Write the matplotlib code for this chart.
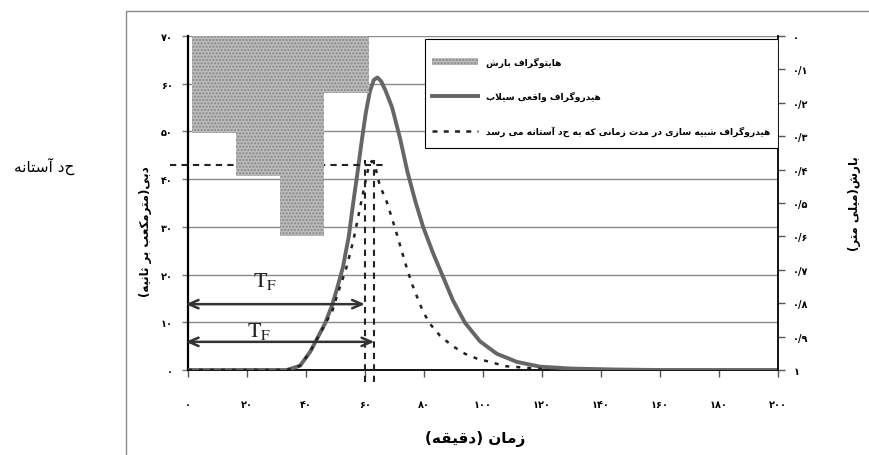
import matplotlib
matplotlib.use("Agg")
import matplotlib.pyplot as plt
from matplotlib.patches import Rectangle, Patch
from matplotlib.lines import Line2D

# hyetograph, rain depth (mm) hanging from the top of the right axis
rain_time = [8.75, 23.75, 38.75, 53.75]
rain_depth = [0.29, 0.42, 0.60, 0.17]
rain_width = 15

# observed hydrograph (m3/s)
obs_time = [0, 20, 33.5, 38, 41.4, 43.7, 46.4, 48.8, 50.5, 52.5, 54.5, 56, 57.6, 59,
            60.3, 61.7, 63, 64.2, 65.5, 67, 69.2, 71.9, 74.4, 77, 79.7, 83, 86.4, 89.8,
            93.9, 99, 104.7, 111.5, 119.3, 130, 145, 160, 200]
obs_q = [0, 0, 0, 0.9, 3.8, 6.5, 9.7, 13.5, 17, 21.5, 28, 35, 42, 48.5,
         54, 58.5, 60.8, 61.3, 60.5, 58.5, 55, 48.5, 41.5, 35.5, 30, 24.6, 19.6, 14.6,
         9.9, 6.0, 3.4, 1.7, 0.7, 0.3, 0.1, 0, 0]

# simulated hydrograph up to the threshold
sim_time = [0, 33.5, 38, 41.4, 43.7, 46.4, 49, 51, 53.5, 56, 58, 59.8, 61.2, 62.3,
            63.5, 65, 67.4, 70.2, 72.9, 74.2, 75.9, 77.6, 79.7, 82, 85.4, 89.5, 93.9,
            98.3, 102.4, 107.5, 111.9, 116, 120]
sim_q = [0, 0, 0.9, 3.8, 6.5, 9.5, 12.5, 16.5, 21, 27, 33, 38.5, 42.5, 43.8,
         42.5, 38.7, 35.2, 29.7, 24, 21.3, 18.1, 15.4, 12.2, 9.7, 7.2, 5.1, 3.4,
         2.3, 1.7, 0.8, 0.6, 0.4, 0.2]

threshold_q = 43
tf_times = [60, 63.2]
tf_arrow_q = [13.8, 5.9]

q_ticks = [0, 10, 20, 30, 40, 50, 60, 70]
q_tick_labels = ['۰', '۱۰', '۲۰', '۳۰', '۴۰', '۵۰', '۶۰', '۷۰']
t_ticks = [0, 20, 40, 60, 80, 100, 120, 140, 160, 180, 200]
t_tick_labels = ['۰', '۲۰', '۴۰', '۶۰', '۸۰', '۱۰۰', '۱۲۰', '۱۴۰', '۱۶۰', '۱۸۰', '۲۰۰']
rain_ticks = [0, 0.1, 0.2, 0.3, 0.4, 0.5, 0.6, 0.7, 0.8, 0.9, 1]
rain_tick_labels = ['۰', '۰/۱', '۰/۲', '۰/۳', '۰/۴', '۰/۵', '۰/۶', '۰/۷', '۰/۸', '۰/۹', '۱']

# --- minimal Persian shaping (matplotlib has no bidi / joining) ---
FORMS = {  # isolated, final[, initial, medial]
    'ا': ('\uFE8D', '\uFE8E'),
    'آ': ('\uFE81', '\uFE82'),
    'د': ('\uFEA9', '\uFEAA'),
    'ر': ('\uFEAD', '\uFEAE'),
    'ز': ('\uFEAF', '\uFEB0'),
    'و': ('\uFEED', '\uFEEE'),
    'ب': ('\uFE8F', '\uFE90', '\uFE91', '\uFE92'),
    'ت': ('\uFE95', '\uFE96', '\uFE97', '\uFE98'),
    'ث': ('\uFE99', '\uFE9A', '\uFE9B', '\uFE9C'),
    'س': ('\uFEB1', '\uFEB2', '\uFEB3', '\uFEB4'),
    'ش': ('\uFEB5', '\uFEB6', '\uFEB7', '\uFEB8'),
    'ع': ('\uFEC9', '\uFECA', '\uFECB', '\uFECC'),
    'ف': ('\uFED1', '\uFED2', '\uFED3', '\uFED4'),
    'ق': ('\uFED5', '\uFED6', '\uFED7', '\uFED8'),
    'ل': ('\uFEDD', '\uFEDE', '\uFEDF', '\uFEE0'),
    'م': ('\uFEE1', '\uFEE2', '\uFEE3', '\uFEE4'),
    'ن': ('\uFEE5', '\uFEE6', '\uFEE7', '\uFEE8'),
    'ه': ('\uFEE9', '\uFEEA', '\uFEEB', '\uFEEC'),
    'ی': ('\uFBFC', '\uFBFD', '\uFBFE', '\uFBFF'),
    'ک': ('\uFB8E', '\uFB8F', '\uFB90', '\uFB91'),
    'گ': ('\uFB92', '\uFB93', '\uFB94', '\uFB95'),
}
LAM_ALEF = {'ا': ('\uFEFB', '\uFEFC'), 'آ': ('\uFEF5', '\uFEF6')}


def fa(s):
    def dual(c):
        return c in FORMS and len(FORMS[c]) == 4
    out = []
    i = 0
    while i < len(s):
        c = s[i]
        if c not in FORMS:
            out.append(c)
            i += 1
            continue
        join_prev = i > 0 and dual(s[i-1])
        nxt = s[i+1] if i + 1 < len(s) else ''
        if c == 'ل' and nxt in LAM_ALEF:
            out.append(LAM_ALEF[nxt][1] if join_prev else LAM_ALEF[nxt][0])
            i += 2
            continue
        join_next = dual(c) and nxt in FORMS
        f = FORMS[c]
        if join_prev and join_next:
            g = f[3]
        elif join_prev:
            g = f[1]
        elif join_next:
            g = f[2]
        else:
            g = f[0]
        out.append(g)
        i += 1
    mirror = {'(': ')', ')': '('}
    return ''.join(mirror.get(ch, ch) for ch in reversed(out))


plt.rcParams['font.family'] = ['DejaVu Sans']
plt.rcParams['mathtext.fontset'] = 'stix'
plt.rcParams['hatch.linewidth'] = 1.1

fig = plt.figure(figsize=(8.69, 4.56), dpi=100)
ax = fig.add_axes([188/869, 85/456, 590/869, 334/456])
ax2 = ax.twinx()

# outer chart border
fig.add_artist(Rectangle((126/869, -0.05), 1.0, 1 - 12/456 + 0.05, transform=fig.transFigure,
                         fill=False, edgecolor='#8a8a8a', linewidth=1.0))

ax.set_xlim(0, 200)
ax.set_ylim(0, 70)
ax2.set_ylim(1, 0)

ax.grid(axis='y', color='#8a8a8a', linewidth=1.0)
ax.set_axisbelow(True)

ax.plot(obs_time, obs_q, color='#666666', linewidth=2.8, zorder=3)
ax.plot(sim_time, sim_q, color='#222222', linewidth=1.8, linestyle=(0, (1.6, 2.8)), zorder=4)

# threshold and time-to-threshold markers
ax.plot([-6, 66], [threshold_q, threshold_q], color='#222222', linewidth=1.5,
        linestyle=(0, (3, 2.5)), clip_on=False, zorder=4)
for t in tf_times:
    ax.plot([t, t], [-2.6, threshold_q + 1], color='#222222', linewidth=1.5,
            linestyle=(0, (3, 2.5)), clip_on=False, zorder=4)
for t, q in zip(tf_times, tf_arrow_q):
    ax.annotate('', xy=(t, q), xytext=(-0.8, q),
                arrowprops=dict(arrowstyle='<->,head_length=0.7,head_width=0.3',
                                color='#333333', lw=1.8, shrinkA=0, shrinkB=0),
                annotation_clip=False, zorder=5)
ax.text(26, 18.7, r'$\mathrm{T_F}$', fontsize=16, ha='center', va='center', color='#222222')
ax.text(24, 8.2, r'$\mathrm{T_F}$', fontsize=16, ha='center', va='center', color='#222222')

bars = ax2.bar(rain_time, rain_depth, width=rain_width, color='#bdbdbd', hatch='.....',
               edgecolor='#858585', linewidth=0, zorder=2)

ax.set_xticks(t_ticks)
ax.set_xticklabels(t_tick_labels, fontsize=7, fontweight='bold')
ax.set_yticks(q_ticks)
ax.set_yticklabels(q_tick_labels, fontsize=7, fontweight='bold')
ax2.set_yticks(rain_ticks)
ax2.set_yticklabels(rain_tick_labels, fontsize=7, fontweight='bold')

ax.tick_params(axis='x', direction='out', length=5, width=1, color='#555555', pad=16)
ax.tick_params(axis='y', direction='out', length=4, width=1, color='#777777', pad=7)
ax2.tick_params(axis='y', direction='out', length=5, width=1, color='#555555', pad=6)

for a in (ax, ax2):
    a.spines['top'].set_visible(False)
ax2.spines['left'].set_visible(False)
ax2.spines['bottom'].set_visible(False)
ax.spines['right'].set_visible(False)
ax.spines['left'].set_linewidth(1.6)
ax.spines['bottom'].set_linewidth(1.3)
ax2.spines['right'].set_linewidth(1.3)

ax.set_xlabel(fa('زمان (دقیقه)'), fontsize=11, fontweight='bold')
ax.xaxis.set_label_coords(0.486, -0.18)
ax.set_ylabel(fa('دبی(مترمکعب بر ثانیه)'), fontsize=8.5, fontweight='bold')
ax.yaxis.set_label_coords(-0.061, 0.416)
ax2.set_ylabel(fa('بارش(میلی متر)'), fontsize=8.5, fontweight='bold', rotation=90)
ax2.yaxis.set_label_coords(1.119, 0.5)

fig.text(44/869, 1 - 166/456, fa('حد آستانه'), fontsize=11, ha='center', va='center')

# legend: own white box, entries without frame
ax2.add_patch(Rectangle((0.4017, 0.6647), 0.5983, 0.3263, transform=ax2.transAxes,
                        facecolor='white', edgecolor='black', linewidth=0.8, zorder=4.5))
handles = [Patch(facecolor='#bdbdbd', hatch='.....', edgecolor='#858585', linewidth=0),
           Line2D([], [], color='#666666', linewidth=2.8),
           Line2D([], [], color='#222222', linewidth=1.8, linestyle=(0, (2, 2.5)))]
labels = [fa('هایتوگراف بارش'), fa('هیدروگراف واقعی سیلاب'),
          fa('هیدروگراف شبیه سازی در مدت زمانی که به حد آستانه می رسد')]
leg = ax2.legend(handles, labels, loc='upper left', bbox_to_anchor=(0.4136, 0.939),
                 borderaxespad=0, borderpad=0, frameon=False,
                 prop=dict(weight='bold', size=6.6), handlelength=5.0, handletextpad=0.9,
                 labelspacing=2.65)
leg.set_zorder(6)

fig.savefig('out.png', dpi=100)
